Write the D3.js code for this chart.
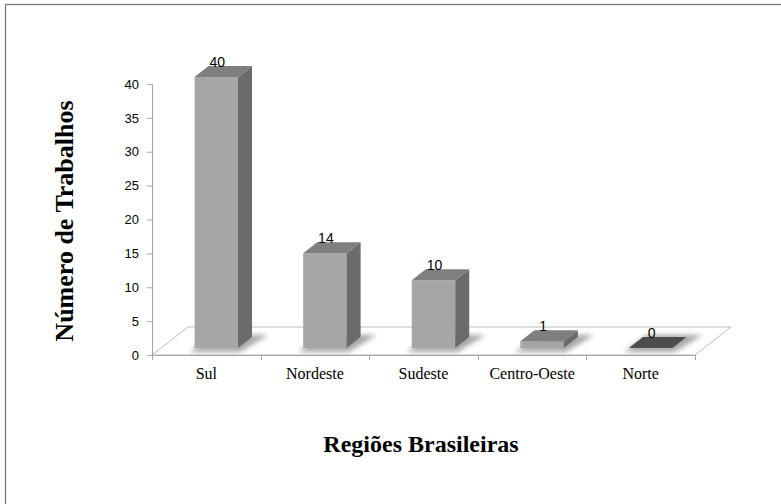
<!DOCTYPE html>
<html>
<head>
<meta charset="utf-8">
<script src="https://cdn.jsdelivr.net/npm/d3@7/dist/d3.min.js"></script>
<style>
  html, body { margin: 0; padding: 0; background: #fff; }
  svg { display: block; }
</style>
</head>
<body>
<svg id="chart" width="781" height="504"></svg>
<script>
// ---- data ----
const categories = ["Sul", "Nordeste", "Sudeste", "Centro-Oeste", "Norte"];
const values = [40, 14, 10, 1, 0];
const yTicks = [0, 5, 10, 15, 20, 25, 30, 35, 40];
const yTitle = "Número de Trabalhos";
const xTitle = "Regiões Brasileiras";

(function () {
// ---- layout ----
const svg = d3.select("#chart");
const leftX = 152, rightX = 695, baseY = 355, topY = 84;
const floorD = { dx: 36, dy: -28 };      // depth of the floor
const fr = { dx: 10, dy: -7 };           // bar front plane offset
const bk = { dx: 24, dy: -18 };          // bar back plane offset

const x = d3.scaleBand().domain(categories).range([leftX, rightX]).padding(0);
const y = d3.scaleLinear().domain([0, 40]).range([baseY, topY]);
const bw = x.bandwidth() * 0.4;

// frame
svg.append("rect").attr("x", 5.5).attr("y", 4.5).attr("width", 900).attr("height", 700)
  .attr("fill", "none").attr("stroke", "#7a7a7a").attr("stroke-width", 1.3);

// defs: blur for shadows
const defs = svg.append("defs");
defs.append("filter").attr("id", "blur").attr("x", "-50%").attr("y", "-100%")
  .attr("width", "200%").attr("height", "300%")
  .append("feGaussianBlur").attr("stdDeviation", 2.6);

// floor
const floorPts = [
  [leftX, baseY], [rightX, baseY],
  [rightX + floorD.dx, baseY + floorD.dy], [leftX + floorD.dx, baseY + floorD.dy]
];
svg.append("polygon").attr("points", floorPts.map(p => p.join(",")).join(" "))
  .attr("fill", "#fff").attr("stroke", "#bdbdbd").attr("stroke-width", 1);

// x-axis front line + boundary ticks
svg.append("line").attr("x1", leftX).attr("x2", rightX).attr("y1", baseY + 0.5).attr("y2", baseY + 0.5)
  .attr("stroke", "#a6a6a6").attr("stroke-width", 1);
const bounds = categories.map(c => x(c)).concat([x(categories[categories.length - 1]) + x.bandwidth()]);
svg.selectAll(".xt").data(bounds).join("line")
  .attr("x1", d => Math.round(d) + 0.5).attr("x2", d => Math.round(d) + 0.5)
  .attr("y1", baseY).attr("y2", baseY + 5)
  .attr("stroke", "#a6a6a6");

// y axis
const yAxis = svg.append("g").attr("transform", `translate(${leftX},0)`)
  .call(d3.axisLeft(y).tickValues(yTicks).tickSize(5).tickPadding(8).tickFormat(d3.format("d")));
yAxis.select(".domain").attr("stroke", "#a6a6a6");
yAxis.selectAll(".tick line").attr("stroke", "#a6a6a6");
yAxis.selectAll("text").attr("font-family", "'Liberation Sans', Arial, sans-serif")
  .attr("font-size", 13).attr("fill", "#000");

// category labels
svg.selectAll(".cat").data(categories).join("text")
  .attr("x", d => x(d) + x.bandwidth() / 2)
  .attr("y", 379)
  .attr("text-anchor", "middle")
  .attr("font-family", "'Liberation Serif', 'Times New Roman', serif")
  .attr("font-size", 16)
  .attr("fill", "#000")
  .text(d => d);

// bars
const data = categories.map((c, i) => ({ c, v: values[i] }));
const g = svg.append("g");
data.forEach(d => {
  const cx = x(d.c) + x.bandwidth() / 2;
  const x0 = cx - bw / 2 + fr.dx, x1 = cx + bw / 2 + fr.dx;
  const yb = baseY + fr.dy;
  const yt = y(d.v) + fr.dy;
  const ddx = bk.dx - fr.dx, ddy = bk.dy - fr.dy;
  // shadow
  const sh = [
    [x0 - 5, yb + 4], [x1 + 2, yb + 4],
    [x1 + ddx + 16, yb + ddy - 2], [x0 + ddx + 4, yb + ddy - 2]
  ];
  g.append("polygon").attr("points", sh.map(p => p.join(",")).join(" "))
    .attr("fill", "#8a8a8a").attr("opacity", 0.75).attr("filter", "url(#blur)");
  if (d.v > 0) {
    g.append("rect").attr("x", x0).attr("y", yt).attr("width", x1 - x0).attr("height", yb - yt)
      .attr("fill", "#a6a6a6");
    const side = [[x1, yt], [x1 + ddx, yt + ddy], [x1 + ddx, yb + ddy], [x1, yb]];
    g.append("polygon").attr("points", side.map(p => p.join(",")).join(" ")).attr("fill", "#6b6b6b");
  }
  const topFace = [[x0, yt], [x1, yt], [x1 + ddx, yt + ddy], [x0 + ddx, yt + ddy]];
  g.append("polygon").attr("points", topFace.map(p => p.join(",")).join(" "))
    .attr("fill", d.v > 0 ? "#7f7f7f" : "#4d4d4d");
  g.append("text")
    .attr("x", cx + fr.dx + 1)
    .attr("y", y(d.v) + bk.dy + 1)
    .attr("text-anchor", "middle")
    .attr("font-family", "'Liberation Sans', Arial, sans-serif")
    .attr("font-size", 14)
    .attr("fill", "#000")
    .text(d.v);
});

// axis titles
svg.append("text")
  .attr("transform", "translate(73,221) rotate(-90)")
  .attr("text-anchor", "middle")
  .attr("font-family", "'Liberation Serif', 'Times New Roman', serif")
  .attr("font-weight", "bold").attr("font-size", 26).attr("fill", "#000")
  .text(yTitle);
svg.append("text")
  .attr("x", 421).attr("y", 452)
  .attr("text-anchor", "middle")
  .attr("font-family", "'Liberation Serif', 'Times New Roman', serif")
  .attr("font-weight", "bold").attr("font-size", 24).attr("fill", "#000")
  .text(xTitle);
})();
</script>
</body>
</html>
